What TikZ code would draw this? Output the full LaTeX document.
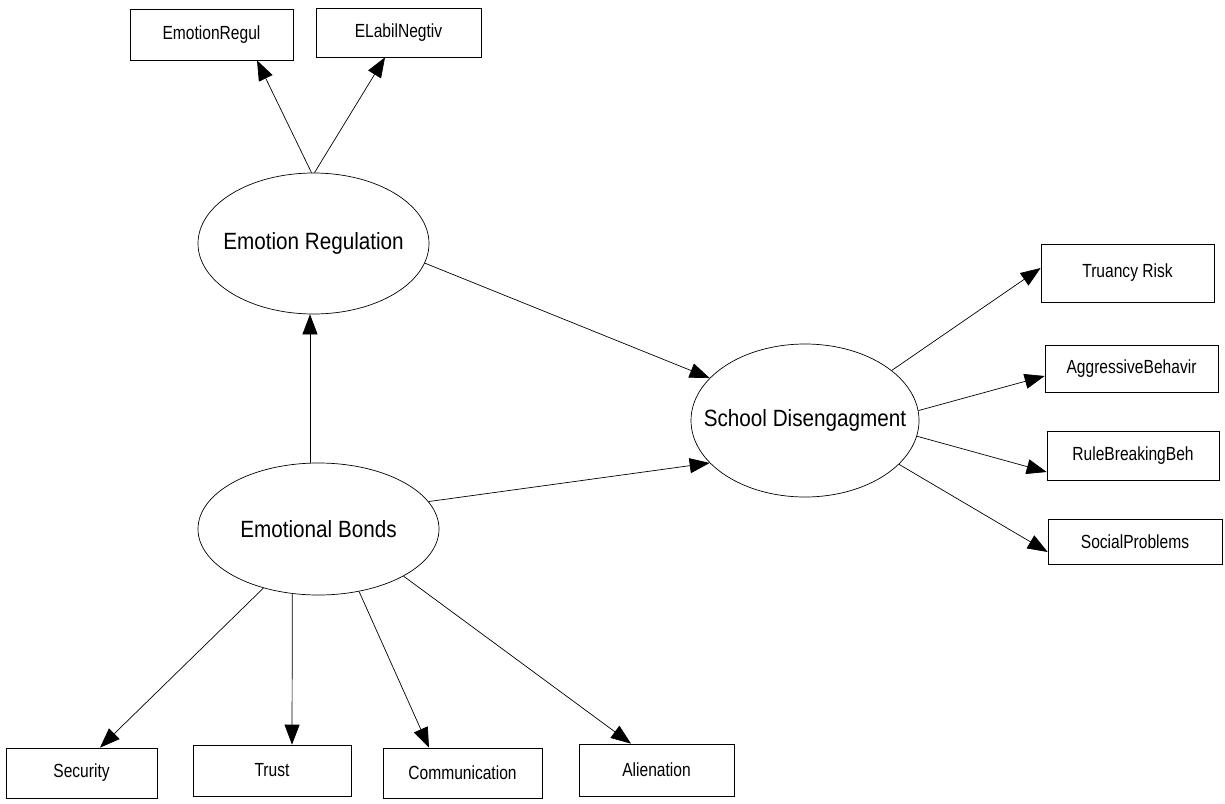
\documentclass[tikz,border=0pt]{standalone}
\usepackage{fontspec}
\setmainfont{Liberation Sans}
\newfontfamily\ellfont[FakeStretch=0.88]{Liberation Sans}
\newfontfamily\boxfont[FakeStretch=0.82]{Liberation Sans}
\usetikzlibrary{shapes.geometric,arrows.meta}
\begin{document}
\begin{tikzpicture}[x=1pt,y=-1pt,
  lat/.style={ellipse, draw, line width=0.7pt, inner sep=0pt, font=\ellfont\fontsize{23.5}{28}\selectfont},
  obs/.style={rectangle, draw, line width=0.7pt, inner sep=0pt, font=\boxfont\fontsize{19}{23}\selectfont},
  arr/.style={-{Triangle[length=20pt,width=15pt]}, line width=0.7pt}]
\path[use as bounding box, fill=white] (0,0) rectangle (1225,803);
% latent variables
\node[lat, minimum width=231pt, minimum height=141pt] (er) at (313.5,243.5) {\makebox[0pt]{Emotion Regulation}};
\node[lat, minimum width=241pt, minimum height=132pt] (eb) at (318.5,529) {\makebox[0pt]{Emotional Bonds}};
\node[lat, minimum width=228pt, minimum height=153pt] (sd) at (805,420.5) {\makebox[0pt]{School Disengagment}};
% indicators
\node[obs, minimum width=163pt, minimum height=51pt] (ereg) at (211.5,34.5) {EmotionRegul};
\node[obs, minimum width=165pt, minimum height=49pt] (elab) at (398.5,32.5) {ELabilNegtiv};
\node[obs, minimum width=173pt, minimum height=58pt] (tru) at (1127.5,273) {Truancy Risk};
\node[obs, minimum width=173pt, minimum height=47pt] (agg) at (1131.5,368.5) {AggressiveBehavir};
\node[obs, minimum width=172pt, minimum height=49pt] (rule) at (1133,455.5) {RuleBreakingBeh};
\node[obs, minimum width=174pt, minimum height=45pt] (soc) at (1135,541.5) {SocialProblems};
\node[obs, minimum width=151pt, minimum height=50pt] (sec) at (81.5,773) {Security};
\node[obs, minimum width=158pt, minimum height=51pt] (trust) at (272,770.5) {Trust};
\node[obs, minimum width=159pt, minimum height=50pt] (comm) at (462.5,773) {Communication};
\node[obs, minimum width=155pt, minimum height=52pt] (alien) at (656.5,770) {Alienation};
% arrows
\draw[arr] ([xshift=-2pt]er.north) -- ([xshift=45.5pt]ereg.south);
\draw[arr] ([xshift=1pt]er.north) -- ([xshift=-13.5pt]elab.south);
\draw[arr] ([xshift=-8.5pt]eb.north) -- ([xshift=-3.5pt]er.south);
\draw[arr] (er.-10.3) -- (sd.156.6);
\draw[arr] (eb.14.2) -- (sd.-156.6);
\draw[arr] (sd.30.4) -- ([yshift=5pt]tru.west);
\draw[arr] (sd.5.3) -- ([yshift=-7.5pt]agg.west);
\draw[arr] (sd.-8.3) -- ([yshift=-16.5pt]rule.west);
\draw[arr] (sd.-25.6) -- ([yshift=-10.5pt]soc.west);
\draw[arr] (eb.-133.3) -- ([xshift=18.5pt]sec.north);
\draw[arr] (eb.-112.2) -- ([xshift=20pt]trust.north);
\draw[arr] (eb.-57.9) -- ([xshift=-33.5pt]comm.north);
\draw[arr] (eb.-29.6) -- ([xshift=-25.5pt]alien.north);
\end{tikzpicture}
\end{document}
